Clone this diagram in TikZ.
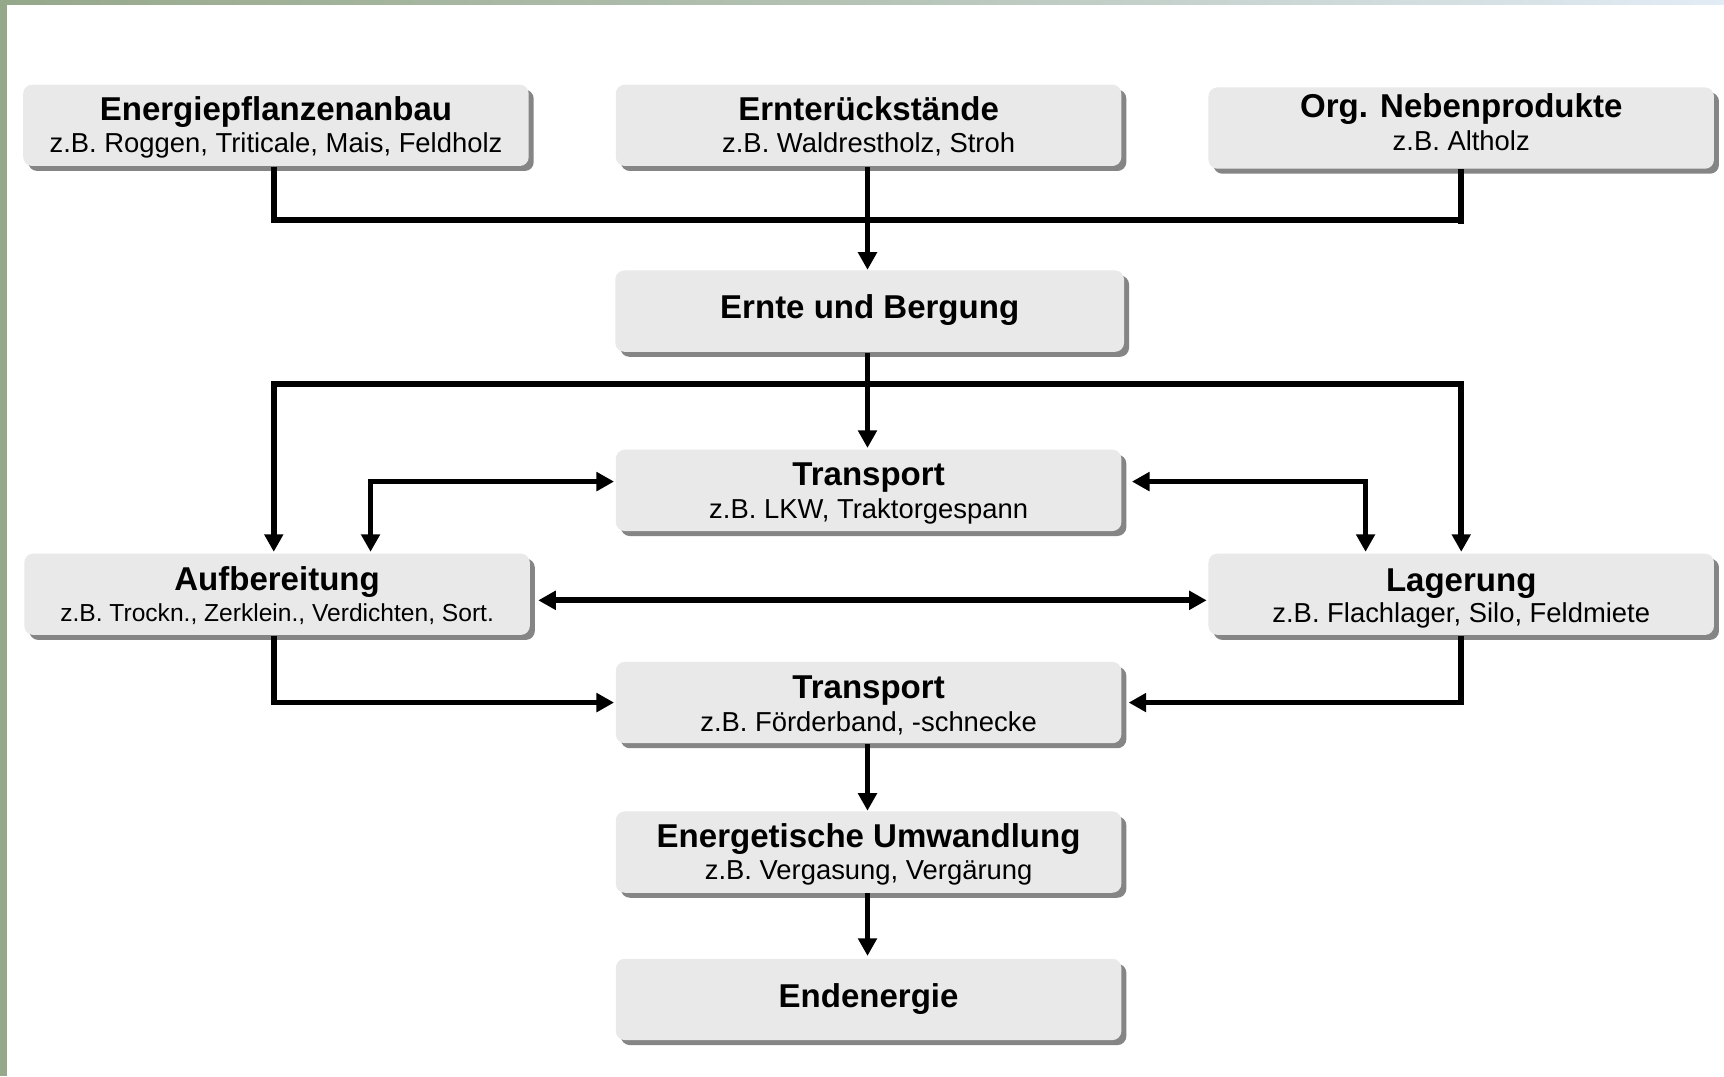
\documentclass[tikz,border=0pt]{standalone}
\usepackage{fontspec}
\setmainfont{Liberation Sans}
\usetikzlibrary{arrows.meta,shadows,calc}
\definecolor{boxfill}{RGB}{233,233,233}
\definecolor{shadowgray}{RGB}{133,133,133}
\definecolor{photogreen}{RGB}{150,168,138}
\definecolor{skyblue}{RGB}{226,236,246}
\tikzset{
  stepbox/.style={rectangle, rounded corners=0.09cm, fill=boxfill, draw=none,
    minimum width=5.058cm, minimum height=0.8136cm, inner sep=0pt,
    drop shadow={shadow xshift=0.05cm, shadow yshift=-0.05cm, fill=shadowgray, opacity=1}},
  ttl/.style={anchor=base, inner sep=0pt, font=\fontsize{9.4}{11}\selectfont\bfseries},
  sub/.style={anchor=base, inner sep=0pt, font=\fontsize{7.8}{9}\selectfont},
  subsmall/.style={anchor=base, inner sep=0pt, font=\fontsize{7.0}{8.4}\selectfont},
  conn/.style={line width=1.65pt, draw=black},
  arr/.style={conn, -{Triangle[length=5pt,width=5.2pt]}},
  both/.style={conn, {Triangle[length=5pt,width=5.2pt]}-{Triangle[length=5pt,width=5.2pt]}}
}
\begin{document}
\begin{tikzpicture}[x=0.010995cm, y=-0.010995cm]
\useasboundingbox (0,0) rectangle (1568,979);
\fill[white] (0,0) rectangle (1568,979);
\fill[photogreen] (0,0) rectangle (6,979);
\shade[left color=photogreen, right color=skyblue, middle color=photogreen!60!skyblue] (0,0) rectangle (1568,4);

% boxes
\node[stepbox] (b1) at (251,114) {};
\node[stepbox] (b2) at (790,114) {};
\node[stepbox] (b3) at (1329,116.5) {};
\node[stepbox, minimum width=5.09cm] (b4) at (791,283) {};
\node[stepbox] (b5) at (790,446) {};
\node[stepbox] (b6) at (252,540.5) {};
\node[stepbox] (b7) at (1329,540.5) {};
\node[stepbox] (b8) at (790,639) {};
\node[stepbox] (b9) at (790,775) {};
\node[stepbox] (b10) at (790,909) {};

% texts
\node[ttl] (t1) at (251,110) {Energiepflanzenanbau};
\node[sub] (s1) at (251,139) {z.B. Roggen, Triticale, Mais, Feldholz};
\node[ttl] (t2) at (790,110) {Ernterückstände};
\node[sub] (s2) at (790,139) {z.B. Waldrestholz, Stroh};
\node[ttl] (t3) at (1329,107) {Org. Nebenprodukte};
\node[sub] (s3) at (1329,137) {z.B. Altholz};
\node[ttl] (t4) at (791,290) {Ernte und Bergung};
\node[ttl] (t5) at (790,442) {Transport};
\node[sub] (s5) at (790,472) {z.B. LKW, Traktorgespann};
\node[ttl] (t6) at (252,537) {Aufbereitung};
\node[subsmall] (s6) at (252,565) {z.B. Trockn., Zerklein., Verdichten, Sort.};
\node[ttl] (t7) at (1329,538) {Lagerung};
\node[sub] (s7) at (1329,566) {z.B. Flachlager, Silo, Feldmiete};
\node[ttl] (t8) at (790,635) {Transport};
\node[sub] (s8) at (790,665) {z.B. Förderband, -schnecke};
\node[ttl] (t9) at (790,771) {Energetische Umwandlung};
\node[sub] (s9) at (790,800) {z.B. Vergasung, Vergärung};
\node[ttl] (t10) at (790,916) {Endenergie};

% junctions
\coordinate (j1) at (790,200);
\coordinate (j2) at (790,349);

% connectors
\draw[conn] ($(b1.south)+(-2,0)$) |- (j1) -- (j1 -| b3.south);
\draw[conn] (b3.south) -- ($(b3.south |- j1)+(0,4)$);
\draw[arr] ($(b2.south)+(-1,0)$) -- ($(b4.north)+(-2,0)$);
\draw[arr] ($(b4.south)+(-2,0)$) -- ($(b5.north)+(-1,-1)$);
\draw[both] ($(b6.north)+(-3,-1)$) |- (j2) -| ($(b7.north)+(0,-1)$);
\draw[both] ($(b6.north)+(85,-1)$) |- ($(b5.west)+(-1,-8)$);
\draw[both] ($(b7.north)+(-87,-1)$) |- ($(b5.east)+(9,-8)$);
\draw[both] ($(b6.east)+(7,5.5)$) -- ($(b7.west)+(-1,5.5)$);
\draw[arr] ($(b6.south)+(-3,0)$) |- ($(b8.west)+(-1,0)$);
\draw[arr] (b7.south) |- ($(b8.east)+(6,0)$);
\draw[arr] ($(b8.south)+(-1,0)$) -- ($(b9.north)+(-1,0)$);
\draw[arr] ($(b9.south)+(-1,0)$) -- ($(b10.north)+(-1,-2)$);
\end{tikzpicture}
\end{document}
